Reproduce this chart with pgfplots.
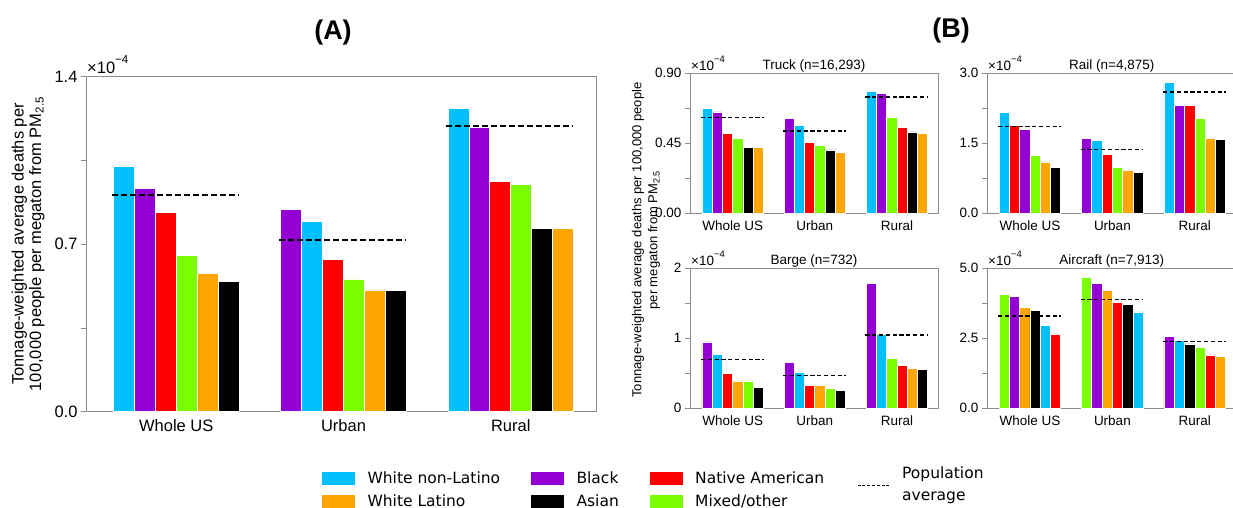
\documentclass[border=0pt]{standalone}
\usepackage{fontspec}
\setmainfont{Liberation Sans}
\newfontfamily\legfont{DejaVu Sans}
\usepackage{pgfplots}
\pgfplotsset{compat=1.18}

\definecolor{cWNL}{HTML}{00BFFF}
\definecolor{cBLK}{HTML}{9400D3}
\definecolor{cNAM}{HTML}{FF0000}
\definecolor{cMIX}{HTML}{7CFC00}
\definecolor{cWL}{HTML}{FFA500}
\definecolor{cASN}{HTML}{000000}
\definecolor{frame}{HTML}{8C8C8C}

\pgfplotsset{
  racebar/.style={ybar, bar width=0.125, bar shift=0pt, fill=#1, draw=white, line width=0.7pt, forget plot},
  popavg/.style={black, line width=1.3pt, dash pattern=on 4.2pt off 2.6pt, forget plot},
  popavgA/.style={black, line width=1.5pt, dash pattern=on 6pt off 3pt, forget plot},
  swatch/.style={legend image code/.code={\fill[#1] (0pt,-6pt) rectangle (32pt,6pt);}},
  panel/.style={
    scale only axis, anchor=north west, clip=false,
    axis line style={frame, line width=0.9pt},
    ymin=0, xtick={0,1,2}, xticklabels={Whole US,Urban,Rural},
    major x tick style={draw=none},
    ytick pos=left, xtick pos=bottom, tick align=outside,
    y tick style={frame, line width=0.9pt},
    major tick length=5pt, minor tick length=5pt,
    scaled y ticks=false,
    xticklabel style={yshift=1pt},
  },
  smallpanel/.style={panel, width=248pt, height=140pt, xmin=-0.52, xmax=2.5,
    ticklabel style={font=\fontsize{13.5}{15}\selectfont},
    title style={font=\fontsize{13.5}{15}\selectfont, at={(0.5,1)}, anchor=south, inner sep=0pt, yshift=-5.5pt}},
}
\newcommand{\sci}[1]{#1×10\raisebox{1.1ex}{\fontsize{0.7em}{1em}\selectfont −4}}

\begin{document}
\begin{tikzpicture}
\path[use as bounding box] (0pt,0pt) rectangle (1233pt,-508pt);

% ---------------- Panel A: all modes ----------------
\begin{axis}[panel, at={(86pt,-76.7pt)}, width=510pt, height=335pt,
  xmin=-0.54, xmax=2.51, ymax=1.4,
  ytick={0,0.7,1.4}, yticklabels={0.0,0.7,1.4}, minor ytick={0.35,1.05},
  ticklabel style={font=\fontsize{16.5}{18}\selectfont},
  legend columns=3,
  legend style={at={(axis description cs:0.4627,-0.1728)}, anchor=north west,
    draw=none, fill=none, inner sep=0pt, row sep=7pt,
    font=\legfont\fontsize{15.5}{18}\selectfont,
    nodes={inner xsep=13pt, inner ysep=1.5pt},
    /tikz/every even column/.append style={column sep=18pt}},
  legend cell align=left]
\addplot[racebar=cWNL] coordinates {(-0.3125,1.027) (0.8125,0.794) (1.6875,1.268)};
\addplot[racebar=cBLK] coordinates {(-0.1875,0.933) (0.6875,0.845) (1.8125,1.187)};
\addplot[racebar=cNAM] coordinates {(-0.0625,0.833) (0.9375,0.635) (1.9375,0.961)};
\addplot[racebar=cMIX] coordinates {(0.0625,0.652) (1.0625,0.555) (2.0625,0.950)};
\addplot[racebar=cWL]  coordinates {(0.1875,0.578) (1.1875,0.509) (2.3125,0.766)};
\addplot[racebar=cASN] coordinates {(0.3125,0.546) (1.3125,0.506) (2.1875,0.767)};
\addplot[popavgA] coordinates {(-0.385,0.906) (0.375,0.906)};
\addplot[popavgA] coordinates {(0.615,0.717) (1.375,0.717)};
\addplot[popavgA] coordinates {(1.615,1.193) (2.375,1.193)};
\addlegendimage{swatch=cWNL}\addlegendentry{White non-Latino}
\addlegendimage{swatch=cBLK}\addlegendentry{Black}
\addlegendimage{swatch=cNAM}\addlegendentry{Native American}
\addlegendimage{swatch=cWL}\addlegendentry{White Latino}
\addlegendimage{swatch=cASN}\addlegendentry{Asian}
\addlegendimage{swatch=cMIX}\addlegendentry{Mixed/other}
\node[anchor=south west, inner sep=0pt, font=\fontsize{16.5}{18}\selectfont] at (rel axis cs:0,1) [xshift=1pt, yshift=3pt] {\sci{}};
\end{axis}

% ---------------- Panel B: truck ----------------
\begin{axis}[smallpanel, at={(690pt,-73pt)}, ymax=0.9,
  title={Truck (n=16,293)},
  ytick={0,0.45,0.9}, yticklabels={0.00,0.45,0.90}, minor ytick={0.225,0.675}]
\addplot[racebar=cWNL] coordinates {(-0.3125,0.672) (0.8125,0.566) (1.6875,0.784)};
\addplot[racebar=cBLK] coordinates {(-0.1875,0.650) (0.6875,0.609) (1.8125,0.769)};
\addplot[racebar=cNAM] coordinates {(-0.0625,0.512) (0.9375,0.456) (2.0625,0.549)};
\addplot[racebar=cMIX] coordinates {(0.0625,0.478) (1.0625,0.435) (1.9375,0.612)};
\addplot[racebar=cASN] coordinates {(0.1875,0.422) (1.1875,0.405) (2.1875,0.521)};
\addplot[racebar=cWL]  coordinates {(0.3125,0.421) (1.3125,0.390) (2.3125,0.510)};
\addplot[popavg] coordinates {(-0.385,0.612) (0.375,0.612)};
\addplot[popavg] coordinates {(0.615,0.528) (1.375,0.528)};
\addplot[popavg] coordinates {(1.615,0.745) (2.375,0.745)};
\node[anchor=south west, inner sep=0pt, font=\fontsize{13.5}{15}\selectfont] at (rel axis cs:0,1) [xshift=1pt, yshift=2pt] {\sci{}};
\end{axis}

% ---------------- Panel B: rail ----------------
\begin{axis}[smallpanel, at={(987pt,-73pt)}, width=249.5pt, xmax=2.505, ymax=3,
  title={Rail (n=4,875)},
  ytick={0,1.5,3}, yticklabels={0.0,1.5,3.0}, minor ytick={0.75,2.25}]
\addplot[racebar=cWNL] coordinates {(-0.3125,2.157) (0.8125,1.550) (1.6875,2.793)};
\addplot[racebar=cNAM] coordinates {(-0.1875,1.879) (0.9375,1.250) (1.9375,2.300)};
\addplot[racebar=cBLK] coordinates {(-0.0625,1.786) (0.6875,1.600) (1.8125,2.300)};
\addplot[racebar=cMIX] coordinates {(0.0625,1.236) (1.0625,0.979) (2.0625,2.029)};
\addplot[racebar=cWL]  coordinates {(0.1875,1.093) (1.1875,0.907) (2.1875,1.593)};
\addplot[racebar=cASN] coordinates {(0.3125,0.979) (1.3125,0.871) (2.3125,1.571)};
\addplot[popavg] coordinates {(-0.385,1.850) (0.375,1.850)};
\addplot[popavg] coordinates {(0.615,1.364) (1.375,1.364)};
\addplot[popavg] coordinates {(1.615,2.593) (2.375,2.593)};
\node[anchor=south west, inner sep=0pt, font=\fontsize{13.5}{15}\selectfont] at (rel axis cs:0,1) [xshift=1pt, yshift=2pt] {\sci{}};
\end{axis}

% ---------------- Panel B: barge ----------------
\begin{axis}[smallpanel, at={(690pt,-268pt)}, ymax=2,
  title={Barge (n=732)},
  ytick={0,1,2}, yticklabels={0,1,2}, minor ytick={0.5,1.5},
  legend style={at={(axis description cs:0.673,-0.493)}, anchor=west,
    draw=none, fill=none, inner sep=0pt,
    font=\legfont\fontsize{15.5}{22}\selectfont,
    nodes={inner xsep=13pt, inner ysep=1pt}},
  legend cell align=left]
\addplot[racebar=cBLK] coordinates {(-0.3125,0.943) (0.6875,0.657) (1.6875,1.776)};
\addplot[racebar=cWNL] coordinates {(-0.1875,0.771) (0.8125,0.505) (1.8125,1.048)};
\addplot[racebar=cNAM] coordinates {(-0.0625,0.495) (0.9375,0.319) (2.0625,0.605)};
\addplot[racebar=cWL]  coordinates {(0.0625,0.386) (1.0625,0.319) (2.1875,0.562)};
\addplot[racebar=cMIX] coordinates {(0.1875,0.386) (1.1875,0.276) (1.9375,0.710)};
\addplot[racebar=cASN] coordinates {(0.3125,0.300) (1.3125,0.252) (2.3125,0.548)};
\addplot[popavg] coordinates {(-0.385,0.695) (0.375,0.695)};
\addplot[popavg] coordinates {(0.615,0.467) (1.375,0.467)};
\addplot[popavg] coordinates {(1.615,1.043) (2.375,1.043)};
\addlegendimage{legend image code/.code={\draw[black, line width=1pt, dash pattern=on 3pt off 1.8pt] (0pt,-8.5pt) -- (31pt,-8.5pt);}}
\addlegendentry{\begin{tabular}{@{}l@{}}Population\\average\end{tabular}}
\node[anchor=south west, inner sep=0pt, font=\fontsize{13.5}{15}\selectfont] at (rel axis cs:0,1) [xshift=1pt, yshift=2pt] {\sci{}};
\end{axis}

% ---------------- Panel B: aircraft ----------------
\begin{axis}[smallpanel, at={(987pt,-268pt)}, width=249.5pt, xmax=2.505, ymax=5,
  title={Aircraft (n=7,913)},
  ytick={0,2.5,5}, yticklabels={0.0,2.5,5.0}, minor ytick={1.25,3.75}]
\addplot[racebar=cMIX] coordinates {(-0.3125,4.071) (0.6875,4.679) (2.0625,2.179)};
\addplot[racebar=cBLK] coordinates {(-0.1875,3.976) (0.8125,4.464) (1.6875,2.548)};
\addplot[racebar=cWL]  coordinates {(-0.0625,3.583) (0.9375,4.214) (2.3125,1.833)};
\addplot[racebar=cASN] coordinates {(0.0625,3.488) (1.1875,3.702) (1.9375,2.286)};
\addplot[racebar=cWNL] coordinates {(0.1875,2.952) (1.3125,3.429) (1.8125,2.429)};
\addplot[racebar=cNAM] coordinates {(0.3125,2.643) (1.0625,3.774) (2.1875,1.893)};
\addplot[popavg] coordinates {(-0.385,3.286) (0.375,3.286)};
\addplot[popavg] coordinates {(0.615,3.869) (1.375,3.869)};
\addplot[popavg] coordinates {(1.615,2.381) (2.375,2.381)};
\node[anchor=south west, inner sep=0pt, font=\fontsize{13.5}{15}\selectfont] at (rel axis cs:0,1) [xshift=1pt, yshift=2pt] {\sci{}};
\end{axis}

% ---------------- labels and panel letters ----------------
\node[rotate=90, align=center, font=\fontsize{16.5}{17.5}\selectfont] at (28pt,-244pt)
  {Tonnage-weighted average deaths per\\100,000 people per megaton from PM\textsubscript{2.5}};
\node[rotate=90, align=center, font=\fontsize{13}{16}\selectfont] at (646pt,-240pt)
  {Tonnage-weighted average deaths per 100,000 people\\per megaton from PM\textsubscript{2.5}};
\node[font=\bfseries\fontsize{27}{30}\selectfont] at (333pt,-33pt) {(A)};
\node[font=\bfseries\fontsize{27}{30}\selectfont] at (951pt,-31pt) {(B)};
\end{tikzpicture}
\end{document}
